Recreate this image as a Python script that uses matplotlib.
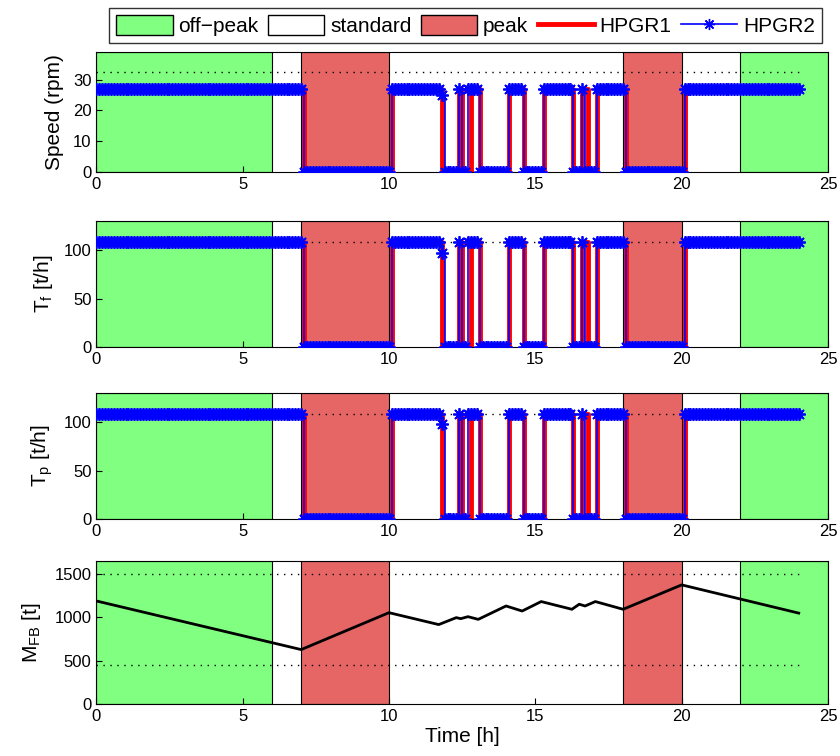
import numpy as np
import matplotlib
matplotlib.use('Agg')
import matplotlib.pyplot as plt
from matplotlib.patches import Patch
from matplotlib.lines import Line2D

plt.rcParams['font.family'] = ['Liberation Sans', 'DejaVu Sans']
plt.rcParams['mathtext.default'] = 'regular'

# tariff periods [h]
offpeak = [(0, 6), (22, 25)]
peak = [(7, 10), (18, 20)]

# mill run intervals [h] (start, stop), 6 minute sampling
hpgr1_on = [(0.0, 7.1), (10.1, 11.8), (12.4, 12.5), (12.8, 13.1), (14.1, 14.6),
            (15.3, 16.3), (16.6, 16.8), (17.1, 18.1), (20.1, 24.1)]
hpgr2_on = [(0.0, 7.1), (10.1, 11.8), (12.4, 12.5), (12.7, 13.1), (14.1, 14.6),
            (15.3, 16.3), (16.6, 16.7), (17.1, 18.1), (20.1, 24.1)]
hpgr2_slow = [(11.8, 11.9)]

speed_run, speed_slow, speed_max = 27.0, 25.0, 32.5
tf_run, tf_slow, tf_max = 108.0, 97.0, 108.0
tp_run, tp_slow, tp_max = 108.0, 98.0, 108.0

# feed bin mass
fb_time = [0, 7.0, 10.0, 11.7, 12.3, 12.45, 12.7, 13.05, 14.0, 14.55, 15.2,
           16.25, 16.5, 16.7, 17.05, 18.0, 20.0, 24.0]
fb_mass = [1190, 630, 1055, 918, 998, 986, 1009, 978, 1132, 1074, 1183,
           1094, 1152, 1132, 1183, 1094, 1375, 1050]
fb_limits = [450, 1500]

hours = np.arange(241) / 10.0

green = '#80ff80'
red = '#e66666'
star = (8, 2, 0)


def level(runs, value, slow_runs=(), slow=0.0):
    y = np.zeros_like(hours)
    for a, b in runs:
        y[(hours > a - 1e-6) & (hours < b - 1e-6)] = value
    for a, b in slow_runs:
        y[(hours > a - 1e-6) & (hours < b - 1e-6)] = slow
    return y


def shade(ax):
    for a, b in offpeak:
        ax.axvspan(a, b, facecolor=green, edgecolor='k', lw=0.8, zorder=0)
    for a, b in peak:
        ax.axvspan(a, b, facecolor=red, edgecolor='k', lw=0.8, zorder=0)
    ax.set_xlim(0, 25)
    ax.set_xticks(np.arange(0, 26, 5))
    ax.tick_params(direction='in', labelsize=12, length=4)
    for s in ax.spines.values():
        s.set_linewidth(0.8)


def dotted(ax, y):
    ax.plot([0, 24], [y, y], color='k', lw=1, ls=(0, (1, 4)), zorder=1)


fig = plt.figure(figsize=(8.4, 7.56), dpi=100)
L, Wd = 96.3 / 840, (828 - 96.3) / 840
boxes = [(51.7, 172.3), (221, 347), (393, 519), (561, 704.3)]
axes = [fig.add_axes([L, 1 - b / 756, Wd, (b - t) / 756]) for t, b in boxes]

panels = [
    (speed_run, speed_slow, speed_max, 39, [0, 10, 20, 30], 'Speed (rpm)'),
    (tf_run, tf_slow, tf_max, 130, [0, 50, 100], 'T$_f$ [t/h]'),
    (tp_run, tp_slow, tp_max, 130, [0, 50, 100], 'T$_p$ [t/h]'),
]
for ax, (run, slow, top, ylim, yt, lab) in zip(axes[:3], panels):
    shade(ax)
    dotted(ax, top)
    ax.plot(hours, level(hpgr1_on, run), color='r', lw=3.5,
            drawstyle='steps-post', zorder=2)
    ax.plot(hours, level(hpgr2_on, run, hpgr2_slow, slow), color='b', lw=1.2,
            drawstyle='steps-post', marker=star, ms=9, mew=1.3, zorder=3)
    ax.set_ylim(0, ylim)
    ax.set_yticks(yt)
    ax.set_ylabel(lab, fontsize=15, labelpad=6)

ax = axes[3]
shade(ax)
for y in fb_limits:
    dotted(ax, y)
ax.plot(fb_time, fb_mass, color='k', lw=2, zorder=2)
ax.set_ylim(0, 1650)
ax.set_yticks([0, 500, 1000, 1500])
ax.set_ylabel('M$_{FB}$ [t]', fontsize=15, labelpad=8)
ax.set_xlabel('Time [h]', fontsize=15, labelpad=2)

handles = [
    Patch(facecolor=green, edgecolor='k', label='off\u2212peak'),
    Patch(facecolor='white', edgecolor='k', label='standard'),
    Patch(facecolor=red, edgecolor='k', label='peak'),
    Line2D([], [], color='r', lw=3.5, label='HPGR1'),
    Line2D([], [], color='b', lw=1.2, marker=star, ms=8, label='HPGR2'),
]
leg = fig.legend(handles=handles, loc='upper left', ncol=5,
                 bbox_to_anchor=(109 / 840, 1 - 8 / 756), fontsize=15,
                 frameon=True, fancybox=False, edgecolor='k',
                 handlelength=2.7, handleheight=1.05, handletextpad=0.28,
                 columnspacing=0.45, borderpad=0.35, borderaxespad=0)
leg.get_frame().set_linewidth(1)

fig.savefig('out.png', dpi=100)
